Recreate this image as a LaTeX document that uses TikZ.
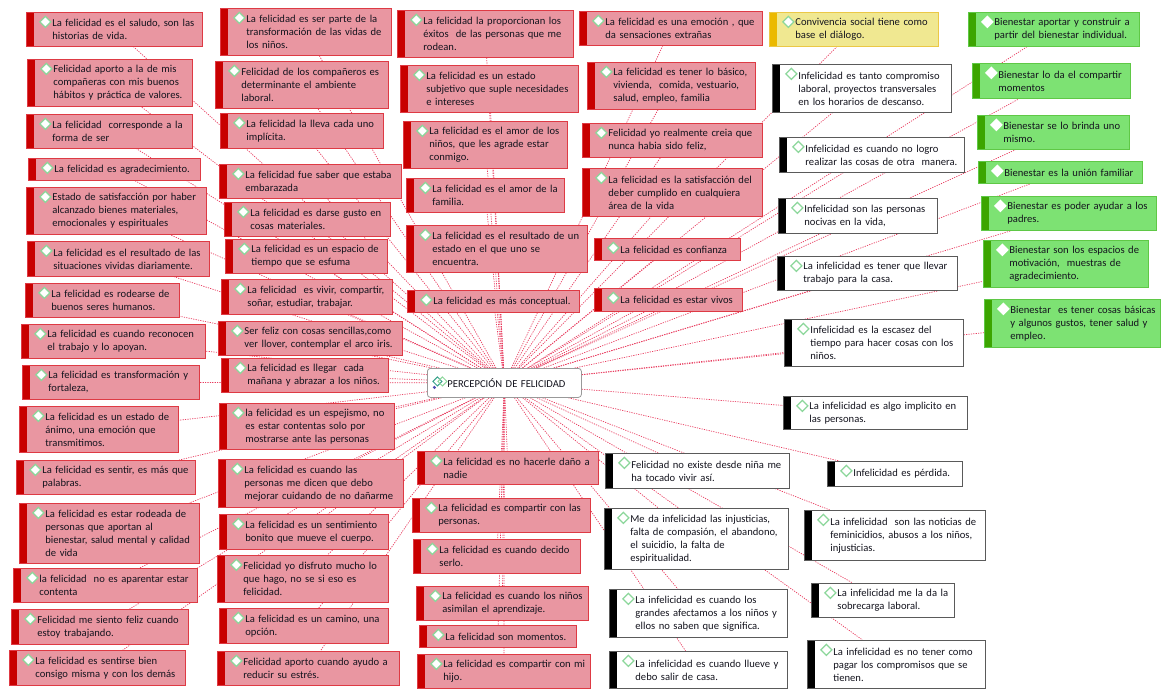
\documentclass[tikz,border=0pt]{standalone}
\usepackage{fontspec}
\setmainfont{Carlito}
\usepackage{tikz}
\definecolor{node_pink}{RGB}{233,150,161}
\definecolor{edge_pink}{RGB}{222,58,68}
\definecolor{bar_red}{RGB}{200,0,0}
\definecolor{node_green}{RGB}{125,226,115}
\definecolor{edge_green}{RGB}{95,200,70}
\definecolor{bar_green}{RGB}{60,165,0}
\definecolor{node_yellow}{RGB}{240,232,145}
\definecolor{edge_yellow}{RGB}{235,200,70}
\definecolor{bar_yellow}{RGB}{235,185,0}
\definecolor{edge_gray}{RGB}{90,90,90}
\definecolor{dia_green}{RGB}{140,215,155}
\definecolor{link_red}{RGB}{232,60,95}
\definecolor{text_dark}{RGB}{20,20,30}
\pgfdeclarelayer{bg}
\pgfsetlayers{bg,main}
\tikzset{ideabox/.style 2 args={path picture={
  \fill[#1] (path picture bounding box.north west) rectangle ([xshift=8pt]path picture bounding box.south west);
  \filldraw[fill=white,draw=#2,line width=1.3pt,sharp corners] ([xshift=19pt,yshift=-9.5pt]path picture bounding box.north west)
    +(-5.5,0) -- +(0,5.5) -- +(5.5,0) -- +(0,-5.5) -- cycle;}}}

\begin{document}
\begin{tikzpicture}[x=1pt,y=-1pt,sz/.style 2 args={text width=#1pt-6pt,minimum height=#2pt}]
    \tikzstyle{idea}=[rectangle,anchor=north west,line width=0.8pt,inner xsep=3pt,inner ysep=2pt,text=text_dark,
      font=\fontsize{10.6}{13}\selectfont,align=left,execute at begin node={\leftskip=23pt\rightskip=-40pt plus 1fil}]
    \tikzstyle{fel}=[idea,fill=node_pink,draw=edge_pink,ideabox={bar_red}{dia_green}]
    \tikzstyle{infel}=[idea,fill=white,draw=edge_gray,ideabox={black}{dia_green}]
    \tikzstyle{bien}=[idea,fill=node_green,draw=edge_green,ideabox={bar_green}{white}]
    \tikzstyle{conv}=[idea,fill=node_yellow,draw=edge_yellow,ideabox={bar_yellow}{dia_green}]
    \tikzstyle{centro}=[idea,fill=white,draw=gray!80,rounded corners=3pt,
      execute at begin node={\leftskip=17pt},
      path picture={
        \draw[teal!60!dia_green,line width=1pt,sharp corners] ([xshift=10pt,yshift=-13pt]path picture bounding box.north west)
          +(-4.5,0) -- +(0,4.5) -- +(4.5,0) -- +(0,-4.5) -- cycle;
        \draw[dia_green,line width=1pt,sharp corners] ([xshift=15pt,yshift=-13pt]path picture bounding box.north west)
          +(-4.5,0) -- +(0,4.5) -- +(4.5,0) -- +(0,-4.5) -- cycle;
        \fill[blue!40!gray] ([xshift=7pt,yshift=-19pt]path picture bounding box.north west) circle (1.7pt);}]
    \tikzstyle{link}=[draw=link_red,line width=0.7pt,dash pattern=on 1.2pt off 1.2pt]

    \useasboundingbox (0,0) rectangle (1161,689);

    \node[centro,sz={154}{29}] (ctr) at (427,368) {PERCEPCIÓN DE FELICIDAD};

    % first column
    \node[fel,sz={176}{34}] (c1) at (26,12) {La felicidad es el saludo, son las\\historias de vida.};
    \node[fel,sz={165}{47}] (c2) at (27,59) {Felicidad aporto a la de mis\\compañeras con mis buenos\\hábitos y práctica de valores.};
    \node[fel,sz={166}{34}] (c3) at (26,114) {La felicidad\ \ corresponde a la\\forma de ser};
    \node[fel,sz={172}{22}] (c4) at (28,158) {La felicidad es agradecimiento.};
    \node[fel,sz={180}{47}] (c5) at (26,187) {Estado de satisfacción por haber\\alcanzado bienes materiales,\\emocionales y espirituales};
    \node[fel,sz={182}{35}] (c6) at (27,241) {La felicidad es el resultado de las\\situaciones vividas diariamente.};
    \node[fel,sz={154}{34}] (c7) at (25,283) {La felicidad es rodearse de\\buenos seres humanos.};
    \node[fel,sz={184}{34}] (c8) at (21,324) {La felicidad es cuando reconocen\\el trabajo y lo apoyan.};
    \node[fel,sz={177}{34}] (c9) at (22,365) {La felicidad es transformación y\\fortaleza,};
    \node[fel,sz={159}{46}] (c10) at (19,406) {La felicidad es un estado de\\ánimo, una emoción que\\transmitimos.};
    \node[fel,sz={179}{34}] (c11) at (16,460) {La felicidad es sentir, es más que\\palabras.};
    \node[fel,sz={180}{60}] (c12) at (19,503) {La felicidad es estar rodeada de\\personas que aportan al\\bienestar, salud mental y calidad\\de vida};
    \node[fel,sz={184}{34}] (c13) at (13,568) {la felicidad\ \ no es aparentar estar\\contenta};
    \node[fel,sz={177}{35}] (c14) at (11,609) {Felicidad me siento feliz cuando\\estoy trabajando.};
    \node[fel,sz={176}{35}] (c15) at (9,650) {La felicidad es sentirse bien\\consigo misma y con los demás};

    % second column
    \node[fel,sz={171}{47}] (d1) at (220,8) {La felicidad es ser parte de la\\transformación de las vidas de\\los niños.};
    \node[fel,sz={173}{47}] (d2) at (215,61) {Felicidad de los compañeros es\\determinante el ambiente\\laboral.};
    \node[fel,sz={163}{35}] (d3) at (220,113) {La felicidad la lleva cada uno\\implícita.};
    \node[fel,sz={182}{34}] (d4) at (219,164) {La felicidad fue saber que estaba\\embarazada};
    \node[fel,sz={166}{34}] (d5) at (224,202) {La felicidad es darse gusto en\\cosas materiales.};
    \node[fel,sz={162}{34}] (d6) at (225,239) {La felicidad es un espacio de\\tiempo que se esfuma};
    \node[fel,sz={171}{35}] (d7) at (221,279) {La felicidad\ \ es vivir, compartir,\\soñar, estudiar, trabajar.};
    \node[fel,sz={184}{34}] (d8) at (218,321) {Ser feliz con cosas sencillas,como\\ver llover, contemplar el arco iris.};
    \node[fel,sz={167}{34}] (d9) at (221,358) {La felicidad es llegar\ \ cada\\mañana y abrazar a los niños.};
    \node[fel,sz={175}{46}] (d10) at (219,403) {la felicidad es un espejismo, no\\es estar contentas solo por\\mostrarse ante las personas};
    \node[fel,sz={185}{48}] (d11) at (218,459) {La felicidad es cuando las\\personas me dicen que debo\\mejorar cuidando de no dañarme};
    \node[fel,sz={169}{35}] (d12) at (219,514) {La felicidad es un sentimiento\\bonito que mueve el cuerpo.};
    \node[fel,sz={171}{47}] (d13) at (217,555) {Felicidad yo disfruto mucho lo\\que hago, no se si eso es\\felicidad.};
    \node[fel,sz={169}{35}] (d14) at (219,608) {La felicidad es un camino, una\\opción.};
    \node[fel,sz={182}{34}] (d15) at (217,651) {Felicidad aporto cuando ayudo a\\reducir su estrés.};

    % third column
    \node[fel,sz={176}{47}] (e1) at (397,10) {La felicidad la proporcionan los\\éxitos\ \ de las personas que me\\rodean.};
    \node[fel,sz={178}{47}] (e2) at (400,65) {La felicidad es un estado\\subjetivo que suple necesidades\\e intereses};
    \node[fel,sz={164}{47}] (e3) at (403,121) {La felicidad es el amor de los\\niños, que les agrade estar\\conmigo.};
    \node[fel,sz={158}{34}] (e4) at (406,178) {La felicidad es el amor de la\\familia.};
    \node[fel,sz={181}{47}] (e5) at (406,225) {La felicidad es el resultado de un\\estado en el que uno se\\encuentra.};
    \node[fel,sz={172}{22}] (e6) at (407,290) {La felicidad es más conceptual.};
    \node[fel,sz={181}{33}] (e7) at (417,451) {La felicidad es no hacerle daño a\\nadie};
    \node[fel,sz={178}{34}] (e8) at (412,498) {La felicidad es compartir con las\\personas.};
    \node[fel,sz={167}{34}] (e9) at (413,539) {La felicidad es cuando decido\\serlo.};
    \node[fel,sz={172}{34}] (e10) at (416,586) {La felicidad es cuando los niños\\asimilan el aprendizaje.};
    \node[fel,sz={157}{22}] (e11) at (419,625) {La felicidad son momentos.};
    \node[fel,sz={173}{34}] (e12) at (417,654) {La felicidad es compartir con mi\\hijo.};

    % fourth column
    \node[fel,sz={183}{34}] (g1) at (579,11) {La felicidad es una emoción , que\\da sensaciones extrañas};
    \node[fel,sz={168}{47}] (g2) at (587,62) {La felicidad es tener lo básico,\\vivienda,\ \ comida, vestuario,\\salud, empleo, familia};
    \node[fel,sz={180}{34}] (g3) at (582,123) {Felicidad yo realmente creia que\\nunca habia sido feliz,};
    \node[fel,sz={180}{48}] (g4) at (582,168) {La felicidad es la satisfacción del\\deber cumplido en cualquiera\\área de la vida};
    \node[fel,sz={146}{22}] (g5) at (594,238) {La felicidad es confianza};
    \node[fel,sz={148}{23}] (g6) at (594,288) {La felicidad es estar vivos};

    \node[conv,sz={169}{34}] (y1) at (769,12) {Convivencia social tiene como\\base el diálogo.};

    % infelicidad
    \node[infel,sz={179}{48}] (b1) at (772,64) {Infelicidad es tanto compromiso\\laboral, proyectos transversales\\en los horarios de descanso.};
    \node[infel,sz={185}{35}] (b2) at (779,137) {Infelicidad es cuando no logro\\realizar las cosas de otra\ \ manera.};
    \node[infel,sz={159}{35}] (b3) at (778,198) {Infelicidad son las personas\\nocivas en la vida,};
    \node[infel,sz={180}{34}] (b4) at (777,256) {La infelicidad es tener que llevar\\trabajo para la casa.};
    \node[infel,sz={179}{47}] (b5) at (784,319) {Infelicidad es la escasez del\\tiempo para hacer cosas con los\\niños.};
    \node[infel,sz={184}{33}] (b6) at (783,396) {La infelicidad es algo implicito en\\las personas.};
    \node[infel,sz={184}{35}] (b7) at (605,453) {Felicidad no existe desde niña me\\ha tocado vivir así.};
    \node[infel,sz={184}{61}] (b8) at (604,508) {Me da infelicidad las injusticias,\\falta de compasión, el abandono,\\el suicidio, la falta de\\espiritualidad.};
    \node[infel,sz={178}{48}] (b9) at (609,589) {La infelicidad es cuando los\\grandes afectamos a los niños y\\ellos no saben que significa.};
    \node[infel,sz={178}{37}] (b10) at (609,651) {La infelicidad es cuando llueve y\\debo salir de casa.};
    \node[infel,sz={135}{25}] (b11) at (827,461) {Infelicidad es pérdida.};
    \node[infel,sz={181}{50}] (b12) at (804,510) {La infelicidad\ \ son las noticias de\\feminicidios, abusos a los niños,\\injusticias.};
    \node[infel,sz={143}{34}] (b13) at (811,583) {La infelicidad me la da la\\sobrecarga laboral.};
    \node[infel,sz={178}{48}] (b14) at (807,640) {La infelicidad es no tener como\\pagar los compromisos que se\\tienen.};

    % bienestar
    \node[bien,sz={171}{34}] (h1) at (968,12) {Bienestar aportar y construir a\\partir del bienestar individual.};
    \node[bien,sz={158}{35}] (h2) at (972,63) {Bienestar lo da el compartir\\momentos};
    \node[bien,sz={152}{34}] (h3) at (977,115) {Bienestar se lo brinda uno\\mismo.};
    \node[bien,sz={164}{22}] (h4) at (978,161) {Bienestar es la unión familiar};
    \node[bien,sz={175}{34}] (h5) at (981,196) {Bienestar es poder ayudar a los\\padres.};
    \node[bien,sz={165}{47}] (h6) at (983,240) {Bienestar son los espacios de\\motivación,\ \ muestras de\\agradecimiento.};
    \node[bien,sz={176}{48}] (h7) at (984,299) {Bienestar\ \ es tener cosas básicas\\y algunos gustos, tener salud y\\empleo.};

    \begin{pgfonlayer}{bg}
      \foreach \i in {1,...,15} {\draw[link] (ctr) -- (c\i); \draw[link] (ctr) -- (d\i);}
      \foreach \i in {1,...,12} \draw[link] (ctr) -- (e\i);
      \foreach \i in {1,...,6} \draw[link] (ctr) -- (g\i);
      \foreach \i in {1,...,14} \draw[link] (ctr) -- (b\i);
      \foreach \i in {1,...,7} \draw[link] (ctr) -- (h\i);
      \draw[link] (ctr) -- (y1);
    \end{pgfonlayer}
\end{tikzpicture}
\end{document}
